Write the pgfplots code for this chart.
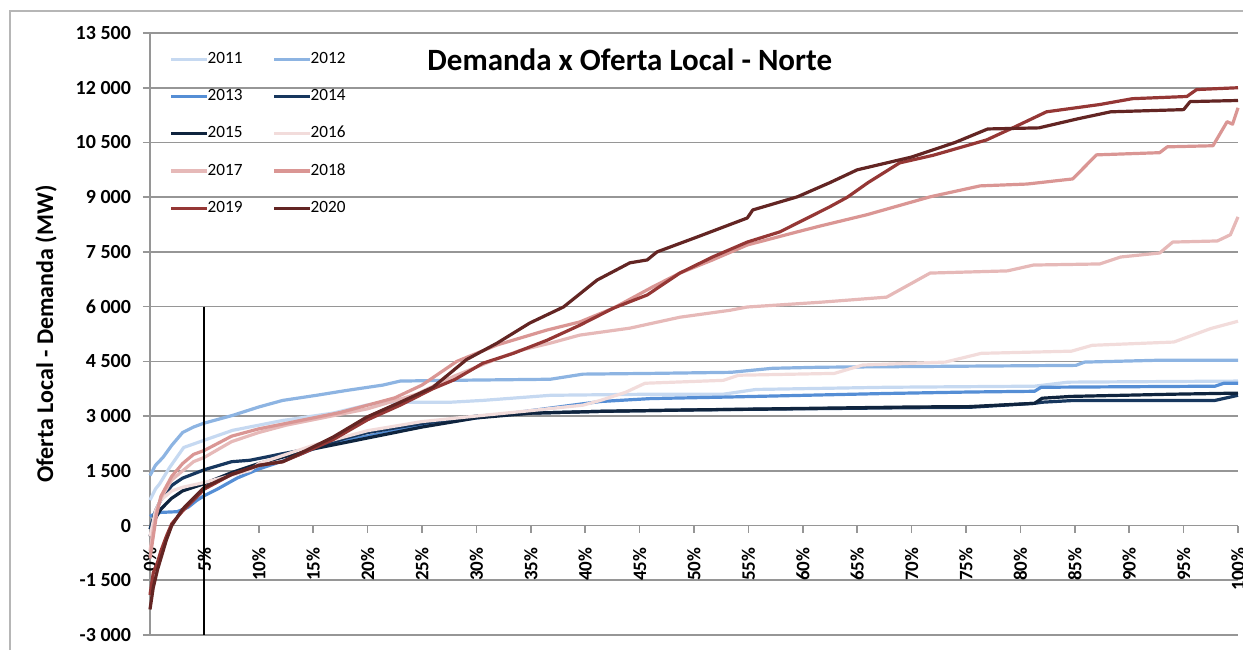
\documentclass[border=0pt]{standalone}
\usepackage{pgfplots}
\pgfplotsset{compat=1.18}
\usepackage{fontspec}
\setmainfont{Carlito}
\definecolor{c2011}{HTML}{C6D9F1}
\definecolor{c2012}{HTML}{8DB4E2}
\definecolor{c2013}{HTML}{558ED5}
\definecolor{c2014}{HTML}{17375E}
\definecolor{c2015}{HTML}{0F243E}
\definecolor{c2016}{HTML}{F2DCDB}
\definecolor{c2017}{HTML}{E6B9B8}
\definecolor{c2018}{HTML}{DA9694}
\definecolor{c2019}{HTML}{953735}
\definecolor{c2020}{HTML}{632523}
\definecolor{gridgray}{HTML}{969696}
\tikzset{serie/.style={line width=1.6pt, line join=round}}

\begin{document}
\begin{tikzpicture}
\path[use as bounding box] (-75pt,-7.5pt) rectangle (546.5pt,317.5pt);
\draw[gridgray!70, line width=0.6pt] (-70pt,-7.5pt) -- (-70pt,312pt) -- (546.5pt,312pt);
\begin{axis}[
    at={(0,0)}, anchor=south west,
    scale only axis,
    width=544pt, height=301pt,
    xmin=0, xmax=100, ymin=-3000, ymax=13500,
    axis x line=middle, axis y line=left,
    hide obscured x ticks=false,
    axis line style={gridgray, line width=0.8pt, -},
    tick style={gridgray, line width=0.8pt},
    tick align=outside,
    major tick length=3.5pt,
    scaled y ticks=false,
    xtick={0,5,...,100},
    xticklabels={0\%,5\%,10\%,15\%,20\%,25\%,30\%,35\%,40\%,45\%,50\%,55\%,60\%,65\%,70\%,75\%,80\%,85\%,90\%,95\%,100\%},
    x tick label style={rotate=90, anchor=east, font=\bfseries\fontsize{9.5}{10}\selectfont, xshift=-4pt},
    ytick={-3000,-1500,...,13500},
    yticklabels={-3 000,-1 500,0,1 500,3 000,4 500,6 000,7 500,9 000,10 500,12 000,13 500},
    y tick label style={font=\bfseries\fontsize{10}{11}\selectfont, xshift=-2.5pt},
    ymajorgrids,
    grid style={gridgray, line width=0.8pt},
    ylabel={Oferta Local - Demanda (MW)},
    every axis y label/.style={at={(axis description cs:0,0.5)}, xshift=-52pt, rotate=90, anchor=center, font=\bfseries\fontsize{12}{14}\selectfont},
    legend columns=2,
    legend cell align=left,
    legend style={at={(rel axis cs:0.012,0.982)}, anchor=north west, draw=none, fill=none,
        font=\fontsize{8.6}{10}\selectfont, row sep=7.4pt,
        /tikz/every odd column/.append style={column sep=-2.5pt},
        /tikz/every even column/.append style={column sep=13pt}},
    legend image code/.code={\draw[#1] (0pt,0pt) -- (18pt,0pt);},
    clip=false,
]
% 2011
\addplot[serie, c2011] coordinates {(0,700) (0.5,1000) (0.9,1150) (1.8,1590) (3.1,2140) (4.9,2330) (7.6,2610) (12.2,2880) (16.8,3080) (19.9,3300) (21.4,3380) (27.6,3380) (30.6,3430) (36.8,3570) (46,3600) (52.7,3600) (55.7,3730) (67.7,3790) (81.3,3820) (84.4,3930) (100,3960)};
% 2012
\addplot[serie, c2012] coordinates {(0,1370) (0.5,1650) (1.2,1870) (2,2200) (3,2550) (4,2700) (4.9,2800) (7.6,3020) (10,3250) (12.2,3430) (15.3,3570) (18,3700) (21.4,3850) (23,3960) (27.6,3980) (36.8,4010) (39.8,4150) (46,4170) (53.4,4200) (57.2,4310) (61.7,4340) (85.1,4390) (85.9,4480) (92.6,4530) (100,4530)};
% 2013
\addplot[serie, c2013] coordinates {(0,250) (0.5,330) (1,360) (2.5,380) (3.5,500) (4.3,690) (5,820) (6.2,1000) (8,1300) (10,1550) (12.5,1800) (15,2100) (17.5,2300) (20,2450) (25,2750) (30,2950) (35,3150) (41.4,3400) (46,3480) (52.7,3520) (67.7,3620) (75.3,3660) (81.3,3680) (81.9,3790) (97.9,3820) (98.7,3900) (100,3900)};
% 2014
\addplot[serie, c2014] coordinates {(0,-100) (0.5,400) (1,700) (2,1100) (3,1300) (5,1530) (7.5,1750) (9.2,1790) (12.2,1970) (15.3,2140) (18,2400) (20,2550) (25,2800) (30,3000) (35,3080) (41.4,3130) (50,3170) (60,3200) (70,3230) (75.3,3240) (81.3,3350) (82,3380) (85,3430) (97.9,3430) (100,3570)};
% 2015
\addplot[serie, c2015] coordinates {(0,-300) (0.5,200) (1,450) (2,750) (3,950) (5,1150) (7.5,1450) (10,1700) (15,2100) (20,2400) (25,2700) (30,2950) (35,3080) (41.4,3130) (50,3170) (60,3210) (70,3250) (75.3,3260) (81.3,3350) (82,3490) (84.7,3540) (94,3600) (100,3630)};
% 2016
\addplot[serie, c2016] coordinates {(0,-300) (0.5,400) (1,700) (2,950) (3,1050) (5,1180) (9.2,1510) (10,1700) (12,1900) (15,2200) (20,2600) (25,2850) (30.6,3020) (35,3150) (39.8,3300) (41.4,3430) (43.7,3650) (45.5,3900) (52.7,3980) (54.1,4120) (62.9,4170) (65.5,4400) (73.1,4480) (76.4,4720) (84.7,4780) (86.6,4940) (94.1,5030) (97.5,5400) (100,5600)};
% 2017
\addplot[serie, c2017] coordinates {(0,-700) (0.3,-100) (0.6,400) (1,750) (2,1250) (3,1500) (4,1750) (5,1870) (7.5,2300) (10,2550) (12.5,2750) (15,2900) (20,3200) (24.5,3600) (28,4100) (31.3,4500) (34,4800) (36.8,5000) (39.5,5220) (44.1,5410) (48.7,5710) (53.3,5900) (54.9,5990) (61.6,6120) (67.7,6260) (71.7,6920) (78.8,6980) (81.2,7140) (87.3,7170) (89.2,7360) (92.8,7470) (94,7770) (98.1,7800) (99.3,7970) (100,8460)};
% 2018
\addplot[serie, c2018] coordinates {(0,-900) (0.3,-300) (0.6,300) (1,800) (2,1350) (3,1700) (4,1950) (5,2060) (7.5,2450) (10,2650) (12.5,2800) (15,2950) (17.5,3100) (20,3300) (22.5,3500) (25,3850) (28.2,4500) (31.9,4950) (36.5,5360) (39.5,5580) (42.6,5960) (46.2,6540) (48.7,6920) (51.7,7280) (54.9,7690) (59.5,8050) (61.6,8210) (65.9,8520) (71.7,9010) (76.3,9310) (80.6,9360) (84.8,9500) (87,10160) (92.8,10220) (93.5,10380) (97.7,10410) (99,11070) (99.5,11000) (100,11450)};
% 2019
\addplot[serie, c2019] coordinates {(0,-1900) (0.3,-1300) (0.7,-1000) (1,-700) (1.5,-300) (2,50) (3,400) (4,700) (5,1000) (7.5,1400) (10,1650) (12.2,1750) (13.8,1950) (16.8,2350) (20,2900) (23,3300) (26,3750) (28,4000) (30.6,4450) (33.4,4720) (36.5,5080) (39.5,5490) (42.6,5960) (45.7,6320) (48.7,6920) (51.7,7360) (54.9,7770) (57.9,8050) (59.7,8320) (62.5,8740) (64.1,9000) (66,9400) (68.9,9940) (72,10150) (76.9,10570) (79.3,10900) (82.4,11340) (87.3,11540) (90.3,11700) (95.3,11760) (96.2,11950) (100,12000)};
% 2020
\addplot[serie, c2020] coordinates {(0,-2300) (0.3,-1700) (0.7,-1200) (1,-900) (1.5,-400) (2,0) (3,450) (4,750) (5,1050) (7.5,1400) (10,1650) (12.2,1750) (13.8,1980) (16.8,2420) (19.9,2970) (23,3380) (26,3790) (29.1,4550) (31.9,5000) (34.9,5550) (38,5990) (41.1,6730) (44.1,7200) (45.7,7280) (46.6,7500) (50.3,7910) (54.9,8430) (55.4,8650) (59.5,9010) (62.5,9400) (65,9750) (70,10100) (74,10500) (77,10870) (81.7,10900) (85.3,11150) (88.3,11340) (95,11400) (95.6,11620) (100,11650)};
% marca 5%
\addplot[black, line width=1pt, forget plot] coordinates {(5,6000) (5,-3000)};
\legend{2011,2012,2013,2014,2015,2016,2017,2018,2019,2020}
\node[font=\bfseries\fontsize{15.5}{18}\selectfont] at (rel axis cs:0.441,0.955) {Demanda x Oferta Local - Norte};
\end{axis}
\end{tikzpicture}
\end{document}
